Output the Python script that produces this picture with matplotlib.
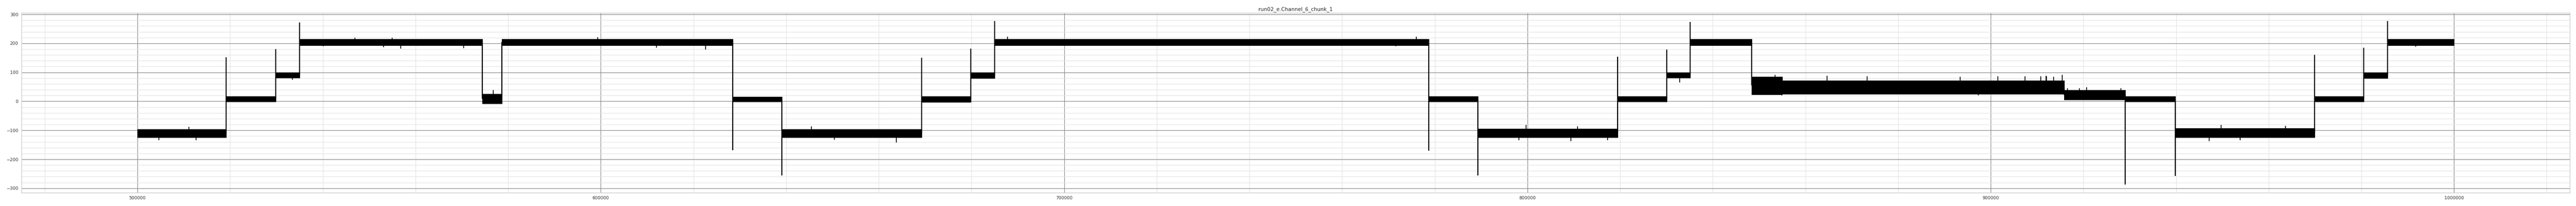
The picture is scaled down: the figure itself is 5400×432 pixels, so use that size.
import matplotlib
matplotlib.use("Agg")
import matplotlib.pyplot as plt
from matplotlib.ticker import AutoMinorLocator
import numpy as np

title = "run02_e.Channel_6_chunk_1"

# plateaus of the trace: start sample and the noise band (lo / hi)
seg_start = [500000, 519170, 529880, 534970, 574450, 578660, 628435, 639105,
             669210, 679900, 684965, 778700, 789350, 819490, 830130, 835170,
             848400, 855000, 915900, 929070, 939795, 969860, 980550, 985670]
seg_end = seg_start[1:] + [1000000]
seg_lo = [-125, -1, 81, 193, -7, 193, -1, -125,
          -2, 80, 193, -1, -125, -1, 81, 193,
          24, 25, 6, -1, -125, -1, 80, 193]
seg_hi = [-97, 17, 100, 215, 25, 215, 16, -96,
          17, 99, 215, 17, -95, 17, 100, 215,
          85, 72, 38, 17, -93, 17, 99, 215]

# overshoot at each level change (nan = no overshoot)
trans_peak = [152, 180, 272, np.nan, np.nan, -168, -256, 151, 181, 277, -171,
              -256, 153, 178, 274, np.nan, np.nan, np.nan, -287, -258, 160, 185, 277]

# isolated glitches sticking out of the band
spike_x = [504615, 511124, 512600, 533490, 540117, 546922, 553135, 554970,
           556862, 570412, 576768, 599369, 611984, 622653, 645517, 650405,
           663834, 687740, 771593, 776014, 798146, 799724, 809388, 810808,
           817358, 832885, 853450, 854860, 864720, 873380, 893400, 897350,
           901510, 907430, 910860, 911920, 912060, 913640, 915490, 916590,
           919160, 920700, 928090, 947140, 949720, 953830, 963610, 991760]
spike_y = [-135, -88, -135, 75, 190, 219, 186, 220,
           182, 183, 38, 221, 185, 178, -87, -133,
           -142, 222, 190, 223, -134, -81, -138, -87,
           -134, 65, 91, 20, 88, 87, 84, 20,
           86, 87, 87, 88, 86, 84, 91, 45,
           45, 48, 45, -138, -82, -135, -85, 188]

seg_start = np.array(seg_start)
seg_end = np.array(seg_end)
seg_lo = np.array(seg_lo, dtype=float)
seg_hi = np.array(seg_hi, dtype=float)
seg_mid = (seg_lo + seg_hi) / 2

plt.rcParams['font.family'] = 'DejaVu Sans'
fig = plt.figure(figsize=(54, 4.32), dpi=100)
ax = fig.add_axes([0.0084, 0.065, 0.9892, 0.8725])

# noise bands
for s, e, lo, hi in zip(seg_start, seg_end, seg_lo, seg_hi):
    ax.fill_between([s, e], [lo, lo], [hi, hi], color='black', lw=0.8)

# level changes, including the overshoot
for i, x in enumerate(seg_start[1:]):
    vals = [seg_mid[i], seg_mid[i + 1]]
    if not np.isnan(trans_peak[i]):
        vals.append(trans_peak[i])
    ax.vlines(x, min(vals), max(vals), color='black', lw=1.6)

# glitches
idx = np.searchsorted(seg_start, spike_x, side='right') - 1
ax.vlines(spike_x, seg_mid[idx], spike_y, color='black', lw=1.2)

ax.set_xlim(475000, 1025000)
ax.set_ylim(-315, 305)
ax.ticklabel_format(axis='x', style='plain', useOffset=False)
ax.set_title(title, fontsize=7.8, color='#262626', pad=3.5)

ax.xaxis.set_minor_locator(AutoMinorLocator(5))
ax.yaxis.set_minor_locator(AutoMinorLocator(5))
ax.grid(which='major', color='#8a8a8a', lw=0.9)
ax.grid(which='minor', color='#e3e3e3', lw=0.8)
ax.set_axisbelow(True)
ax.tick_params(which='both', length=0, labelsize=6.7, colors='#333333', pad=5)
for sp in ax.spines.values():
    sp.set_color('#cccccc')
    sp.set_linewidth(1.0)

fig.savefig('out.png', dpi=100)
